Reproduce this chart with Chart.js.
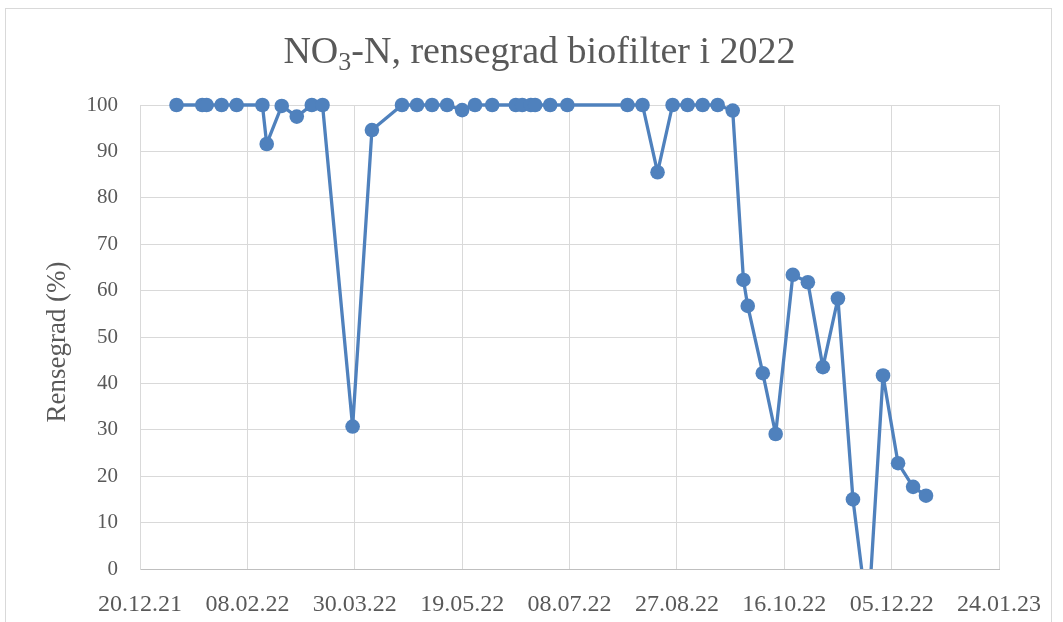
<!DOCTYPE html>
<html><head><meta charset="utf-8">
<script src="https://cdn.jsdelivr.net/npm/chart.js@4/dist/chart.umd.min.js"></script>
<style>html,body{margin:0;padding:0;background:#fff;overflow:hidden}#wrap{width:1063px;height:622px;position:relative}</style>
</head><body><div id="wrap"><canvas id="c" width="1063" height="622"></canvas></div>
<script>
// ---- data ----
const dates = ['06.01.22','18.01.22','20.01.22','27.01.22','03.02.22','15.02.22','17.02.22','24.02.22','03.03.22','10.03.22','15.03.22','29.03.22','07.04.22','21.04.22','28.04.22','05.05.22','12.05.22','19.05.22','25.05.22','02.06.22','13.06.22','16.06.22','20.06.22','22.06.22','29.06.22','07.07.22','04.08.22','11.08.22','18.08.22','25.08.22','01.09.22','08.09.22','15.09.22','22.09.22','27.09.22','29.09.22','06.10.22','12.10.22','20.10.22','27.10.22','03.11.22','10.11.22','17.11.22','24.11.22','01.12.22','08.12.22','15.12.22','21.12.22'];
const rensegrad = [100,100,100,100,100,100,91.6,99.8,97.5,100,100,30.7,94.6,100,100,100,100,98.9,100,100,100,100,100,100,100,100,100,100,85.5,100,100,100,100,98.8,62.3,56.7,42.2,29.1,63.4,61.8,43.5,58.3,15.0,-11,41.7,22.8,17.7,15.8];
const xAxisStart = '20.12.21';
const xAxisEnd = '24.01.23';
const xTickStepDays = 50;
const yMin = 0, yMax = 100, yStep = 10;
// title parts: normal, subscript, normal
const titleParts = ['NO', '3', '-N, rensegrad biofilter i 2022'];
const yTitleText = 'Rensegrad (%)';

const DAY = 86400000;
function parseD(s){const [d,m,y]=s.split('.').map(Number);return Date.UTC(2000+y,m-1,d);}
function fmtD(v){const t=new Date(Math.round(v/DAY)*DAY);const p=n=>String(n).padStart(2,'0');return p(t.getUTCDate())+'.'+p(t.getUTCMonth()+1)+'.'+p(t.getUTCFullYear()%100);}
const points = dates.map((d,i)=>({x:parseD(d),y:rensegrad[i]}));

const FONT = "'Liberation Serif', 'DejaVu Serif', serif";
const TXT = '#595959';
const GRID = '#D9D9D9';
const BLUE = '#4F81BD';

const frame = {
  id:'frame',
  beforeDraw(chart){
    const c=chart.ctx;c.save();c.fillStyle='#fff';c.fillRect(0,0,chart.width,chart.height);
    c.strokeStyle=GRID;c.lineWidth=1;c.strokeRect(5.5,8.5,1046,640);c.restore();
  }
};
const titleDraw = {
  id:'titleDraw',
  afterDraw(chart){
    const c=chart.ctx;c.save();c.fillStyle=TXT;c.textBaseline='alphabetic';c.textAlign='left';
    const big='38px '+FONT, small='26px '+FONT;
    c.font=big;const w0=c.measureText(titleParts[0]).width, w2=c.measureText(titleParts[2]).width;
    c.font=small;const w1=c.measureText(titleParts[1]).width;
    const total=w0+w1+w2, cx=539.5, base=63;
    let x=cx-total/2;
    c.font=big;c.fillText(titleParts[0],x,base);x+=w0;
    c.font=small;c.fillText(titleParts[1],x,base+7);x+=w1;
    c.font=big;c.fillText(titleParts[2],x,base);
    // y-axis title
    c.translate(58,342);c.rotate(-Math.PI/2);c.textAlign='center';c.textBaseline='middle';
    c.font='27px '+FONT;c.fillText(yTitleText,0,0);
    c.restore();
  }
};

new Chart(document.getElementById('c'),{
  type:'line',
  data:{datasets:[{
    data:points,borderColor:BLUE,backgroundColor:BLUE,borderWidth:3.3,borderJoinStyle:'round',borderCapStyle:'round',
    pointRadius:7.3,pointHoverRadius:7.3,pointBackgroundColor:BLUE,pointBorderColor:BLUE,pointBorderWidth:0,
    tension:0,clip:{left:12,top:12,right:12,bottom:0}
  }]},
  options:{
    responsive:false,animation:false,devicePixelRatio:1,
    layout:{padding:{left:0,right:64,top:105,bottom:0}},
    plugins:{legend:{display:false},tooltip:{enabled:false},title:{display:false}},
    scales:{
      x:{type:'linear',min:parseD(xAxisStart),max:parseD(xAxisEnd),
        afterFit(s){s.height=53;},
        border:{display:true,color:'#BFBFBF',width:1},
        grid:{color:GRID,lineWidth:1,drawTicks:false},
        ticks:{stepSize:xTickStepDays*DAY,autoSkip:false,maxRotation:0,minRotation:0,padding:21,color:TXT,
          font:{family:FONT,size:24},callback:v=>fmtD(v)}
      },
      y:{min:yMin,max:yMax,
        afterFit(s){s.width=140;},
        border:{display:true,color:GRID,width:1},
        grid:{color:GRID,lineWidth:1,drawTicks:false},
        ticks:{stepSize:yStep,padding:22,color:TXT,font:{family:FONT,size:21}},
        title:{display:false}
      }
    }
  },
  plugins:[frame,titleDraw]
});
</script></body></html>
